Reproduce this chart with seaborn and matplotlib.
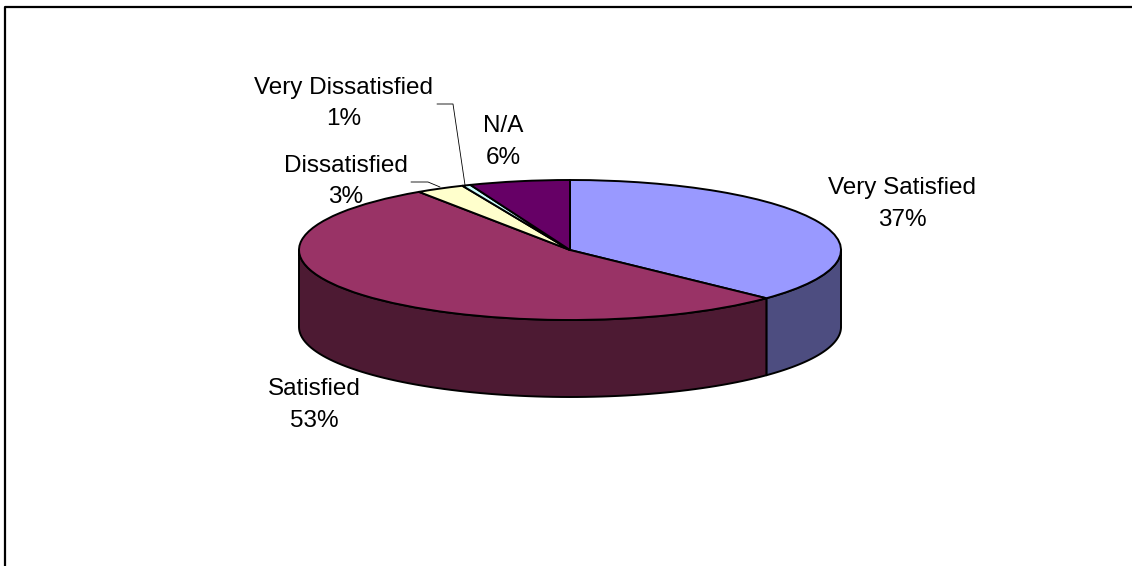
import numpy as np
import matplotlib
matplotlib.use('Agg')
import matplotlib.pyplot as plt
from matplotlib.lines import Line2D
import seaborn as sns

labels = ['Very Satisfied', 'Satisfied', 'Dissatisfied', 'Very Dissatisfied', 'N/A']
values = [37.1, 53.49, 2.91, 0.51, 5.99]
top_colors = ['#9999FF', '#993366', '#FFFFCC', '#CCFFFF', '#660066']
side_colors = ['#4D4D80', '#4D1A33', '#808066', '#668080', '#330033']

W, H = 1132, 566
CX, CY = 570, 250
RX, RY = 271, 70
DEPTH = 77 / RY
FONT_SIZE = 17.5

sns.set_theme(style='white')
plt.rcParams['font.family'] = ['Liberation Sans', 'DejaVu Sans']

fig = plt.figure(figsize=(W / 100, H / 100), dpi=100, facecolor='white')
ax = fig.add_axes([0, 0, 1, 1])

# side wall, only the part of each slice facing front
cum = np.concatenate([[0], np.cumsum(values)]) / np.sum(values)
for i, col in enumerate(sns.color_palette(side_colors)):
    a = 90 - cum[i] * 360
    b = 90 - cum[i + 1] * 360
    hi = min(a, 0)
    lo = max(b, -180)
    if lo >= hi:
        continue
    t = np.radians(np.linspace(hi, lo, 80))
    xs = np.concatenate([np.cos(t), np.cos(t[::-1])])
    ys = np.concatenate([np.sin(t), np.sin(t[::-1]) - DEPTH])
    ax.fill(xs, ys, facecolor=col, edgecolor='black', linewidth=1.4, joinstyle='round')

ax.pie(values, colors=sns.color_palette(top_colors), startangle=90, counterclock=False,
       radius=1, wedgeprops=dict(edgecolor='black', linewidth=1.4))
ax.set_aspect('auto')
ax.set_xlim(-CX / RX, (W - CX) / RX)
ax.set_ylim((CY - H) / RY, CY / RY)
ax.axis('off')


def fx(x):
    return x / W


def fy(y):
    return 1 - y / H


# labels: name over rounded percent
label_pos = [(902, 188, 220), (314, 389, 421), (346, 166, 197), (344, 88, 119), (503, 126, 158)]
for name, val, (x, y1, y2) in zip(labels, values, label_pos):
    fig.text(fx(x), fy(y1), name, ha='center', va='center', fontsize=FONT_SIZE, color='black')
    fig.text(fx(x), fy(y2), f'{round(val):d}%', ha='center', va='center', fontsize=FONT_SIZE, color='black')

# leader lines
for px, py in [((437, 453, 465), (104, 104, 185)), ((411, 428, 440), (182, 182, 187))]:
    fig.add_artist(Line2D([fx(v) for v in px], [fy(v) for v in py], color='black', linewidth=0.6))

# chart area border, top and left only
fig.add_artist(Line2D([fx(5), fx(5), fx(W)], [0, fy(7), fy(7)], color='black', linewidth=1.6))

fig.savefig('out.png', dpi=100, facecolor='white')
